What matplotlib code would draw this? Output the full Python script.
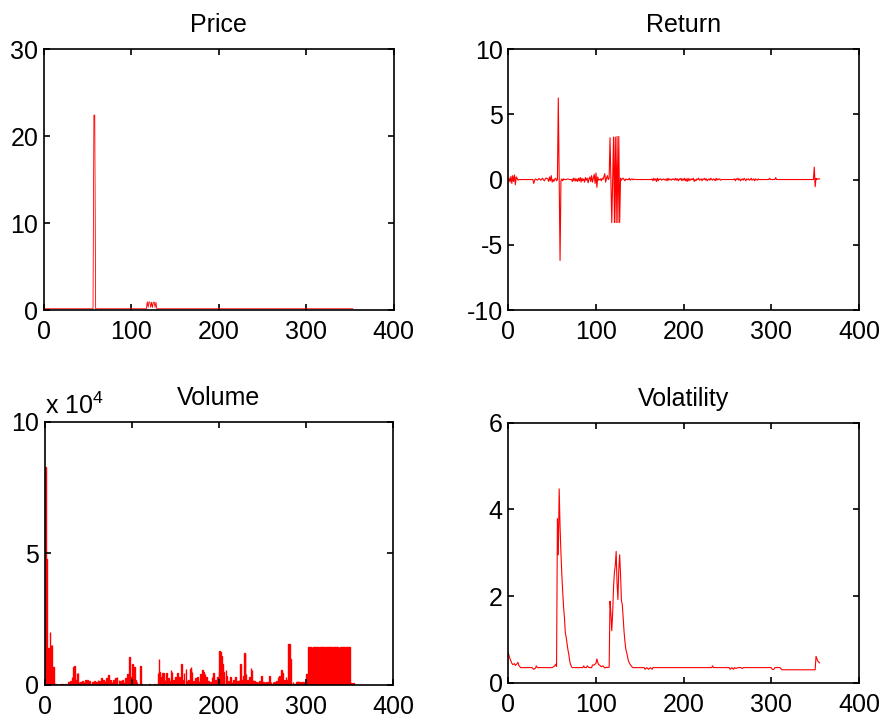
import matplotlib.pyplot as plt

# MATLAB 스타일 4분할 차트 (Price / Return / Volume / Volatility)
plt.rcParams['font.family'] = ['Liberation Sans', 'DejaVu Sans']
plt.rcParams['mathtext.fontset'] = 'custom'
plt.rcParams['mathtext.rm'] = 'Liberation Sans'
plt.rcParams['axes.unicode_minus'] = False

# ---- Price ----
price_x = [1, 56, 57, 58, 59, 117, 118, 119, 120, 121, 122, 123, 124, 125, 126, 127, 128, 129, 353]
price_y = [0.15, 0.15, 22.4, 22.4, 0.15, 0.15, 0.95, 0.3, 0.95, 0.9, 0.3, 0.9, 0.3, 0.9, 0.9, 0.3, 0.9, 0.15, 0.15]

# ---- Return ----
ret_x = [1, 2, 3, 4, 5, 6, 7, 8, 9, 10, 11, 12, 28, 29, 30, 31, 33, 35, 37, 39, 41, 43, 45, 46, 47, 48, 49,
         50, 51, 52, 53, 54, 55, 56, 57, 58, 59, 60, 61, 62, 63, 64, 66, 68, 70, 72, 73, 74, 75, 76, 77, 78,
         79, 80, 81, 82, 83, 84, 85, 86, 87, 88, 89, 90, 91, 92, 93, 94, 95, 96, 97, 98, 99, 100, 101, 102,
         103, 104, 105, 106, 107, 108, 109, 110, 111, 112, 113, 114, 115, 116, 117, 118, 119, 120, 121, 122,
         123, 124, 125, 126, 127, 128, 129, 130, 131, 132, 133, 134, 135, 137, 138, 139, 140, 141, 142, 143,
         145, 163,
         164, 165, 166, 167, 168, 169, 170, 171, 172, 173, 174, 175, 176, 177, 178, 179, 180, 181, 182, 183,
         184, 185, 186, 187, 188, 189, 190, 191, 192, 193, 194, 195, 196, 197, 198, 199, 200, 201, 202, 203,
         204, 205, 206, 207, 208, 209, 210, 211, 212, 213, 214, 215, 216, 217, 218, 219, 220, 221, 222, 223,
         224, 225, 226, 227, 228, 229, 230, 231, 232, 233, 234, 235, 236, 237, 238, 239, 240, 241, 242, 243,
         257, 258, 259, 260, 261, 262, 263, 264, 265, 266, 267, 268, 269, 270, 271, 272, 273, 274, 275, 276,
         277, 278, 279, 280, 281, 282, 283, 284, 285, 286, 287, 297, 298, 299, 304, 305, 306, 348, 349, 350,
         351, 352, 353, 354, 355]
ret_y = [0.1, -0.2, 0.25, -0.3, 0.3, -0.15, 0.35, -0.4, 0.2, 0.1, -0.05, 0.0, 0.0, -0.3, -0.05, 0.05, -0.05,
         0.08, -0.05, 0.1, -0.1, 0.12, 0.05, -0.15, 0.2, -0.1, 0.3,
         -0.2, 0.0, -0.15, 0.05, 0.1, -0.1, 0.0, 6.25, 0.0, -6.2, -0.1, 0.05, -0.1, 0.05, 0.0, 0.0, 0.05, 0.0,
         0.0, -0.15, 0.1, -0.1, 0.1, -0.12, 0.05,
         -0.15, 0.1, -0.1, 0.15, -0.2, 0.1, -0.1, 0.05, -0.2, 0.15, -0.05, 0.1, -0.25, 0.05, 0.2, -0.15, 0.3,
         -0.2, 0.1, 0.4, -0.3, 0.5, -0.6, 0.2,
         -0.05, 0.0, 0.05, -0.1, 0.1, 0.0, 0.2, 0.45, -0.2, 0.1, 0.3, 0.0, 0.1, 3.2, 0.0, -3.3, 0.0, 3.25,
         -3.3, 3.25,
         -3.3, 3.3, -3.3, 3.3, -3.3, 0.1, -0.05, 0.05, 0.1, 0.0, -0.1, 0.05, 0.0, 0.0, 0.1, -0.05, 0.0, 0.05,
         -0.02, 0.03,
         0.0, 0.0,
         0.05, -0.1, 0.1, -0.05, 0.05, -0.15, 0.1, -0.1, 0.05, 0.0, 0.05, -0.05, 0.0, 0.05, 0.0, -0.05, 0.05,
         -0.1, 0.1, -0.05,
         0.05, 0.0, -0.05, 0.05, 0.0, 0.05, -0.05, 0.1, -0.05, 0.05, -0.1, 0.05, 0.0, 0.1, -0.1, 0.05, -0.05,
         0.1, -0.1, 0.05,
         -0.15, 0.1, -0.1, 0.05, -0.05, 0.05, 0.0, 0.1, -0.15, 0.0, -0.1, 0.05, 0.0, 0.1, -0.05, 0.0, 0.05,
         -0.1, 0.05, 0.0,
         0.1, -0.05, 0.05, -0.1, 0.0, 0.05, -0.05, 0.1, 0.0, -0.05, 0.05, 0.0, -0.1, 0.1, -0.05, 0.05, 0.0,
         0.05, -0.05, 0.0,
         0.0, 0.05, -0.1, 0.05, 0.0, 0.1, -0.05, 0.05, -0.1, 0.0, 0.05, -0.05, 0.1, 0.0, -0.1, 0.05, 0.0,
         0.05, -0.05, 0.0,
         0.1, -0.05, 0.0, 0.05, -0.1, 0.05, 0.0, -0.05, 0.05, 0.0, 0.0, 0.0, 0.1, 0.0, 0.0, 0.15, 0.0, 0.0,
         0.95, -0.55,
         0.1, 0.0, 0.05, 0.05, 0.05]

# ---- Volume (단위: x 10^4) ----
vol_x = [1, 2, 3, 4, 5, 6, 7, 8, 9, 10, 11, 12, 15, 18, 20, 24, 27, 29, 31, 33, 34, 35, 37, 38, 39, 41, 43,
         45, 47, 49, 51, 53, 55, 57, 59, 61, 63, 65, 67, 69, 71, 73, 75, 77, 79, 81, 83, 85, 87, 89, 91, 93,
         95, 97, 98, 99, 101, 102, 103, 104, 106, 110, 111, 114, 120, 126, 129, 130, 131, 132, 134, 135, 136,
         138, 140, 142, 144, 145, 146, 148, 150, 152, 153, 155, 157, 158, 160, 162, 163, 165, 167, 168, 169,
         171, 173, 175, 177, 179, 181, 182, 184, 186, 188, 190, 192, 194, 196, 198, 200, 201, 202, 203, 204,
         205, 206, 208, 209, 211, 213, 215, 217, 219, 221, 223, 225, 226, 228, 229, 230, 231, 233, 235, 237,
         238, 239, 241, 243, 245, 247, 249, 251, 253, 255, 257, 258, 260, 262, 264, 266, 268, 270, 272, 273,
         275, 277, 278, 280, 281, 282, 283, 285, 287, 289, 291, 293, 295, 297, 299, 301, 302,
         303, 304, 305, 306, 307, 308, 309, 310, 311, 312, 313, 314, 315, 316, 317, 318, 319, 320, 321, 322,
         323, 324, 325, 326, 327, 328, 329, 330, 331, 332, 333, 334, 335, 336, 337, 338, 339, 340, 341, 342,
         343, 344, 345, 346, 347, 348, 349, 350, 351, 352, 353, 354, 355]
vol_y = [8.3, 4.8, 1.0, 1.4, 0.4, 2.0, 1.5, 1.5, 0.7, 0.7, 0.05, 0.02, 0.02, 0.03, 0.02, 0.05, 0.1, 0.15, 0.3,
         0.7, 0.72, 0.2, 0.45, 0.45, 0.1, 0.1, 0.15,
         0.12, 0.2, 0.18, 0.15, 0.05, 0.1, 0.15, 0.12, 0.2, 0.15, 0.25, 0.2, 0.15, 0.25, 0.38, 0.2, 0.1, 0.2,
         0.25, 0.3, 0.2, 0.15, 0.2, 0.1, 0.25,
         0.4, 1.08, 0.3, 0.2, 0.8, 0.5, 0.7, 0.2, 0.1, 0.73, 0.05, 0.02, 0.02, 0.02, 0.05, 0.45, 1.0, 0.5,
         0.3, 0.45, 0.45,
         0.2, 0.45, 0.25, 0.15, 0.55, 0.5, 0.2, 0.3, 0.45, 0.15, 0.3, 0.8, 0.2, 0.45, 0.6, 0.15, 0.2, 0.6,
         0.67, 0.5,
         0.15, 0.25, 0.3, 0.15, 0.4, 0.55, 0.5, 0.4, 0.3, 0.15, 0.1, 0.3, 0.45, 0.2, 0.3, 0.5, 1.3, 1.25,
         1.1, 0.8,
         0.5, 0.2, 0.55, 0.35, 0.15, 0.3, 0.1, 0.2, 0.3, 0.15, 0.2, 0.79, 0.2, 0.35, 1.2, 1.2, 0.4, 0.2, 0.3,
         0.63,
         0.55, 0.2, 0.15, 0.1, 0.1, 0.15, 0.35, 0.1, 0.1, 0.1, 0.1, 0.34, 0.1, 0.1, 0.1, 0.15, 0.3, 0.35,
         0.55, 0.45,
         0.2, 0.3, 0.2, 1.56, 1.56, 1.0, 0.1, 0.1, 0.05, 0.1, 0.15, 0.1, 0.1, 0.12, 0.1, 0.4, 0.42,
         1.43, 1.43, 1.43, 1.43, 1.43, 1.43, 1.43, 1.43, 1.43, 1.43, 1.43, 1.43, 1.43, 1.43, 1.43, 1.43,
         1.43, 1.43, 1.43, 1.43,
         1.43, 1.43, 1.43, 1.43, 1.43, 1.43, 1.43, 1.43, 1.43, 1.43, 1.43, 1.43, 1.43, 1.43, 1.43, 1.43,
         1.43, 1.43, 1.43, 1.43,
         1.43, 1.43, 1.43, 1.43, 1.43, 1.43, 1.43, 1.43, 0.06, 0.06, 0.06, 0.06, 0.06]

# ---- Volatility ----
vola_x = [0, 2, 4, 5, 7, 8, 10, 11, 12, 14, 27, 29, 31, 32, 33, 50, 53, 54, 55, 56, 57, 58, 59, 60, 61, 62,
          63, 64, 65, 66, 67, 68, 69, 70, 71, 72, 73, 85, 86, 87, 89, 90, 92, 95, 96, 98, 100, 101, 102, 103,
          104, 106, 108, 110, 112, 113, 115, 116, 117, 118, 119, 120, 121, 122, 123, 124, 125, 126, 127, 128,
          129, 130, 131, 132, 133, 134, 135, 136, 137, 139, 141, 142, 155, 156, 158, 160, 162, 164, 165, 232,
          233, 234, 252, 253, 255, 257, 258, 260, 262, 265, 267, 268, 300, 301, 303, 304, 310, 312, 350, 351,
          353, 355]
vola_y = [0.68, 0.55, 0.45, 0.42, 0.44, 0.40, 0.44, 0.47, 0.40, 0.35, 0.35, 0.31, 0.34, 0.39, 0.35, 0.35,
          0.39, 0.43, 0.38, 3.78, 2.95, 4.47, 3.6, 3.0, 2.5, 2.1,
          1.75, 1.5, 1.15, 1.05, 0.9, 0.76, 0.65, 0.5, 0.42, 0.37, 0.35, 0.35, 0.39, 0.35, 0.35, 0.39, 0.35,
          0.35, 0.41, 0.41, 0.45, 0.55, 0.47, 0.42,
          0.41, 0.37, 0.39, 0.34, 0.36, 0.35, 0.36, 1.88, 1.6, 1.2, 1.6, 2.2, 2.55, 2.7, 3.03, 2.3, 1.92, 2.6,
          2.95, 2.5,
          1.9, 1.8, 1.5, 1.18, 0.95, 0.78, 0.7, 0.6, 0.5, 0.42, 0.37, 0.35, 0.35, 0.31, 0.35, 0.31, 0.35,
          0.31, 0.35, 0.35,
          0.39, 0.35, 0.35, 0.31, 0.35, 0.31, 0.35, 0.33, 0.35, 0.35, 0.33, 0.35, 0.35, 0.31, 0.31, 0.35,
          0.35, 0.30, 0.30, 0.61,
          0.50, 0.46]

fig = plt.figure(figsize=(8.81, 7.21), dpi=100)
ax_price = fig.add_axes([0.050, 0.570, 0.397, 0.362])
ax_ret = fig.add_axes([0.577, 0.570, 0.398, 0.362])
ax_vol = fig.add_axes([0.051, 0.050, 0.395, 0.365])
ax_vola = fig.add_axes([0.577, 0.053, 0.398, 0.361])

ax_price.plot(price_x, price_y, color='#ff0000', lw=0.6)
ax_ret.plot(ret_x, ret_y, color='#ff0000', lw=0.8)
ax_vol.bar(vol_x, vol_y, width=0.8, color='#ff0000', edgecolor='#ff0000', linewidth=1.0)
ax_vola.plot(vola_x, vola_y, color='#ff0000', lw=0.8)

ax_price.set_ylim(0, 30)
ax_price.set_yticks([0, 10, 20, 30])
ax_ret.set_ylim(-10, 10)
ax_ret.set_yticks([-10, -5, 0, 5, 10])
ax_vol.set_ylim(0, 10)
ax_vol.set_yticks([0, 5, 10])
ax_vola.set_ylim(0, 6)
ax_vola.set_yticks([0, 2, 4, 6])

titles = ['Price', 'Return', 'Volume', 'Volatility']
for ax, t in zip([ax_price, ax_ret, ax_vol, ax_vola], titles):
    ax.set_xlim(0, 400)
    ax.set_xticks([0, 100, 200, 300, 400])
    ax.set_title(t, fontsize=18, pad=12)
    ax.tick_params(direction='in', top=True, right=True, length=4, width=1.2, labelsize=18)
    ax.tick_params(axis='x', pad=7)
    ax.tick_params(axis='y', pad=4)
    for s in ax.spines.values():
        s.set_linewidth(1.2)

ax_vol.text(0, 1.012, r'x 10$^{4}$', transform=ax_vol.transAxes, fontsize=18, ha='left', va='bottom')

plt.savefig('out.png', dpi=100)
plt.close()
